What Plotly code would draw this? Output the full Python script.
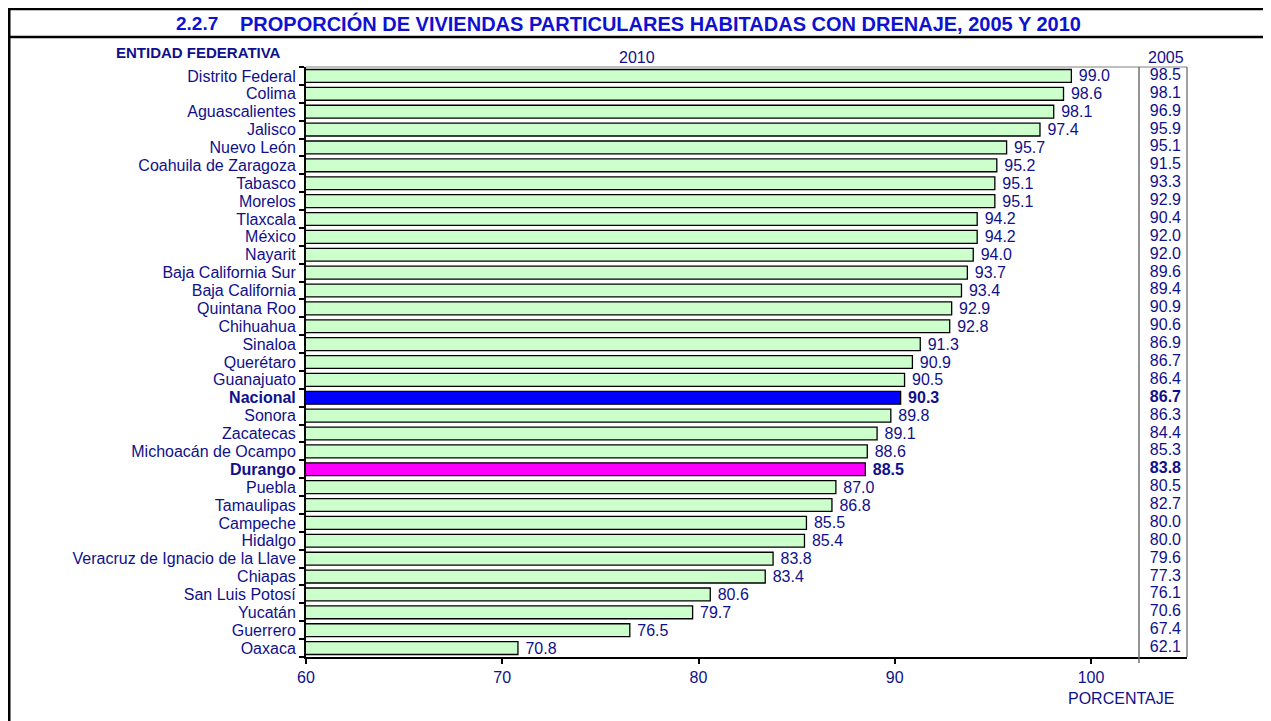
import plotly.graph_objects as go

entidades = ["Distrito Federal", "Colima", "Aguascalientes", "Jalisco", "Nuevo León",
             "Coahuila de Zaragoza", "Tabasco", "Morelos", "Tlaxcala", "México", "Nayarit",
             "Baja California Sur", "Baja California", "Quintana Roo", "Chihuahua", "Sinaloa",
             "Querétaro", "Guanajuato", "Nacional", "Sonora", "Zacatecas", "Michoacán de Ocampo",
             "Durango", "Puebla", "Tamaulipas", "Campeche", "Hidalgo",
             "Veracruz de Ignacio de la Llave", "Chiapas", "San Luis Potosí", "Yucatán",
             "Guerrero", "Oaxaca"]
valores_2010 = [99.0, 98.6, 98.1, 97.4, 95.7, 95.2, 95.1, 95.1, 94.2, 94.2, 94.0, 93.7, 93.4,
                92.9, 92.8, 91.3, 90.9, 90.5, 90.3, 89.8, 89.1, 88.6, 88.5, 87.0, 86.8, 85.5,
                85.4, 83.8, 83.4, 80.6, 79.7, 76.5, 70.8]
valores_2005 = [98.5, 98.1, 96.9, 95.9, 95.1, 91.5, 93.3, 92.9, 90.4, 92.0, 92.0, 89.6, 89.4,
                90.9, 90.6, 86.9, 86.7, 86.4, 86.7, 86.3, 84.4, 85.3, 83.8, 80.5, 82.7, 80.0,
                80.0, 79.6, 77.3, 76.1, 70.6, 67.4, 62.1]
x_ticks = [60, 70, 80, 90, 100]
destacados = {"Nacional": "#0000FF", "Durango": "#FF00FF"}

NAVY = "#10108a"
TITLE_BLUE = "#1010d0"
FONT = "Liberation Sans, Arial, sans-serif"
FS = 16

OFF = 8  # page body margin offset
W, H = 1271, 721
# plot area in screen pixels
L, R, T, B = 306, 1187, 67, 657


def px(x):
    return (x - L) / (R - L)


def py(y):
    return (B - y) / (B - T)


def bold(name, txt):
    return f"<b>{txt}</b>" if name in destacados else txt


colors = [destacados.get(e, "#CCFFCC") for e in entidades]
text2010 = [" " + bold(e, f"{v:.1f}") for e, v in zip(entidades, valores_2010)]
text2005 = [bold(e, f"{v:.1f}") for e, v in zip(entidades, valores_2005)]

unit = (1091 - 306) / 40
xmax = 60 + (R - L) / unit
x2005 = 60 + (1181 - L) / unit

fig = go.Figure()
fig.add_trace(go.Bar(
    y=entidades, x=valores_2010, base=0, orientation="h",
    marker=dict(color=colors, line=dict(color="black", width=1.3)),
    width=0.72,
    text=text2010, textposition="outside", cliponaxis=False, constraintext="none",
    textfont=dict(color=NAVY, size=FS, family=FONT),
    hoverinfo="x+y",
))
fig.add_trace(go.Scatter(
    y=entidades, x=[x2005] * len(entidades), mode="text",
    text=text2005, textposition="middle left",
    textfont=dict(color=NAVY, size=FS, family=FONT),
    cliponaxis=False, hoverinfo="skip",
))

shapes = [
    # frame
    dict(type="line", xref="paper", yref="paper", x0=px(8), x1=px(1290), y0=py(9), y1=py(9),
         line=dict(color="black", width=2.5)),
    dict(type="line", xref="paper", yref="paper", x0=px(8), x1=px(1290), y0=py(37), y1=py(37),
         line=dict(color="black", width=2.5)),
    dict(type="line", xref="paper", yref="paper", x0=px(9), x1=px(9), y0=py(7.8), y1=py(740),
         line=dict(color="black", width=3)),
    # plot box top/right
    dict(type="line", xref="paper", yref="paper", x0=0, x1=1, y0=1, y1=1,
         line=dict(color="#808080", width=1)),
    dict(type="line", xref="paper", yref="paper", x0=1, x1=1, y0=0, y1=1,
         line=dict(color="#404040", width=1)),
    # 2005 column separator
    dict(type="line", xref="paper", yref="paper", x0=px(1139), x1=px(1139), y0=py(663), y1=1,
         line=dict(color="#707070", width=1.5)),
]

annotations = [
    dict(text="<b>2.2.7</b>",
         xref="paper", yref="paper", x=px(197), y=py(23), showarrow=False,
         font=dict(color=TITLE_BLUE, size=19, family=FONT), xanchor="center", yanchor="middle"),
    dict(text="<b>PROPORCIÓN DE VIVIENDAS PARTICULARES HABITADAS CON DRENAJE, 2005 Y 2010</b>",
         xref="paper", yref="paper", x=px(660), y=py(23), showarrow=False,
         font=dict(color=TITLE_BLUE, size=20, family=FONT), xanchor="center", yanchor="middle"),
    dict(text="<b>ENTIDAD FEDERATIVA</b>", xref="paper", yref="paper", x=px(198), y=py(52),
         showarrow=False, font=dict(color=NAVY, size=15, family=FONT), xanchor="center", yanchor="middle"),
    dict(text="2010", xref="paper", yref="paper", x=px(637), y=py(57), showarrow=False,
         font=dict(color=NAVY, size=FS, family=FONT), xanchor="center", yanchor="middle"),
    dict(text="2005", xref="paper", yref="paper", x=px(1166), y=py(57), showarrow=False,
         font=dict(color=NAVY, size=FS, family=FONT), xanchor="center", yanchor="middle"),
    dict(text="PORCENTAJE", xref="paper", yref="paper", x=px(1121), y=py(698), showarrow=False,
         font=dict(color=NAVY, size=FS, family=FONT), xanchor="center", yanchor="middle"),
]

fig.update_layout(
    template="none",
    width=W, height=H,
    margin=dict(l=L - OFF, r=W - (R - OFF), t=T - OFF, b=H - (B - OFF), pad=0, autoexpand=False),
    paper_bgcolor="white", plot_bgcolor="white",
    showlegend=False, bargap=0.28,
    shapes=shapes, annotations=annotations,
    font=dict(family=FONT, color=NAVY, size=FS),
)
fig.update_xaxes(
    range=[60, xmax], tickvals=x_ticks, ticktext=[str(t) for t in x_ticks],
    showgrid=False, zeroline=False, showline=True, linecolor="black", linewidth=2,
    ticks="outside", ticklen=5, tickcolor="black", tickwidth=1.5, automargin=False,
    tickfont=dict(color=NAVY, size=FS, family=FONT),
)
fig.update_yaxes(
    range=[len(entidades) - 0.5, -0.5], type="category", autorange=False,
    tickvals=entidades, ticktext=[bold(e, e) for e in entidades],
    showgrid=False, zeroline=False, showline=True, linecolor="black", linewidth=2,
    ticks="outside", ticklen=5, tickcolor="black", tickwidth=1.5, tickson="boundaries",
    ticklabelstandoff=5, automargin=False,
    tickfont=dict(color=NAVY, size=FS, family=FONT),
)

fig.write_html("out.html")
